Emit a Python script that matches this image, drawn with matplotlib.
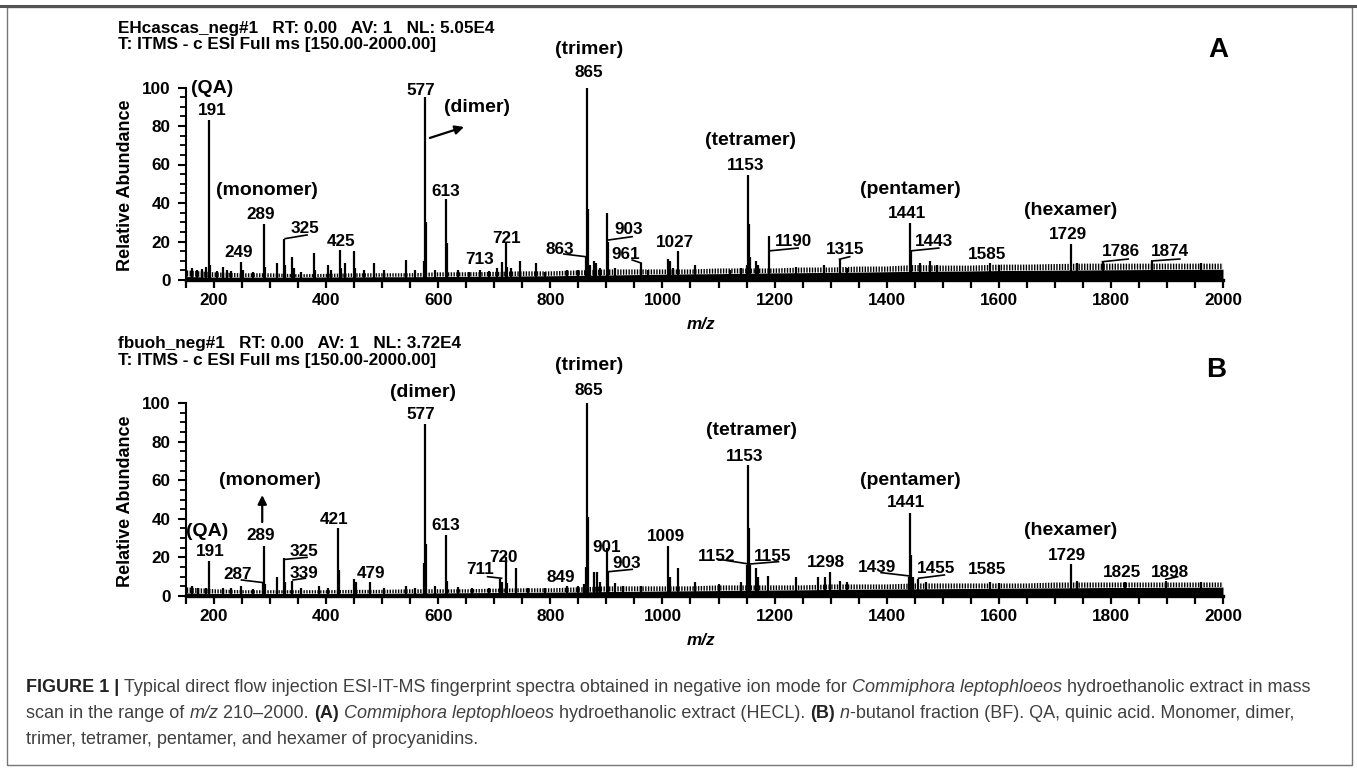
import matplotlib
matplotlib.use("Agg")
import matplotlib.pyplot as plt
from matplotlib.lines import Line2D

plt.rcParams['font.family'] = ['Liberation Sans', 'DejaVu Sans']
plt.rcParams['hatch.linewidth'] = 1.0

# ---------------- DATA ----------------
x_major_ticks = [200, 400, 600, 800, 1000, 1200, 1400, 1600, 1800, 2000]
y_major_ticks = [0, 20, 40, 60, 80, 100]

header_A = ["EHcascas_neg#1   RT: 0.00   AV: 1   NL: 5.05E4",
            "T: ITMS - c ESI Full ms [150.00-2000.00]"]
header_B = ["fbuoh_neg#1   RT: 0.00   AV: 1   NL: 3.72E4",
            "T: ITMS - c ESI Full ms [150.00-2000.00]"]

noise_mz = [150, 200, 250, 300, 350, 400, 450, 500, 550, 600, 650, 700, 750,
            800, 850, 900, 950, 1000, 1050, 1100, 1150, 1200, 1250, 1300, 1350,
            1400, 1450, 1500, 1550, 1600, 1650, 1700, 1750, 1800, 1850, 1900,
            1950, 2000]
A_noise_floor = [1.8, 1.5, 1.5, 1.5, 1.5, 1.6, 1.6, 1.7, 1.7, 1.8, 1.9, 2.0, 2.1,
                 2.2, 2.4, 2.6, 2.8, 3.0, 3.2, 3.3, 3.5, 3.7, 3.8, 4.0, 4.1,
                 4.3, 4.5, 4.6, 4.7, 4.9, 5.0, 5.1, 5.2, 5.3, 5.4, 5.5, 5.5, 5.6]
A_noise_top = [5.0, 4.0, 3.5, 3.5, 3.0, 3.2, 3.5, 3.5, 3.5, 4.0, 4.0, 4.2, 4.5,
               4.5, 5.0, 5.5, 5.5, 5.5, 5.5, 6.0, 6.0, 6.0, 6.5, 6.5, 7.0,
               7.0, 7.8, 7.5, 7.5, 8.0, 8.0, 8.3, 8.5, 8.5, 8.5, 8.5, 8.5, 8.5]
B_noise_floor = [1.6, 1.3, 1.3, 1.3, 1.3, 1.3, 1.4, 1.4, 1.5, 1.6, 1.7, 1.8, 1.9,
                 2.0, 2.1, 2.3, 2.4, 2.6, 2.7, 2.8, 3.0, 3.1, 3.2, 3.4, 3.5,
                 3.6, 3.7, 3.8, 3.9, 4.0, 4.1, 4.2, 4.3, 4.4, 4.4, 4.5, 4.5, 4.6]
B_noise_top = [4.5, 3.5, 3.0, 3.0, 3.0, 3.0, 3.2, 3.2, 3.5, 3.5, 3.5, 3.8, 4.0,
               4.0, 4.5, 5.0, 5.0, 5.0, 5.0, 5.5, 5.5, 5.5, 5.5, 6.0, 6.0,
               6.0, 6.5, 6.5, 6.5, 6.5, 6.5, 7.0, 7.0, 7.0, 7.0, 7.0, 7.0, 7.0]

A_peak_mz = [160, 170, 178, 185, 191, 193, 205, 216, 224, 230, 249, 251, 270,
             289, 291, 313, 325, 327, 339, 343, 355, 379, 381, 403, 409, 425,
             427, 433, 449, 451, 467, 485, 503, 542, 559, 575, 577, 579, 595,
             613, 615, 636, 655, 675, 690, 705, 713, 721, 723, 730, 745, 774,
             790, 830, 850, 863, 865, 867, 870, 877, 881, 889, 901, 903, 915,
             961, 975, 1009, 1013, 1019, 1027, 1058, 1120, 1140, 1151, 1153,
             1155, 1157, 1166, 1171, 1190, 1239, 1288, 1316, 1330, 1441, 1443,
             1460, 1477, 1490, 1585, 1600, 1729, 1740, 1786, 1874, 1960]
A_peak_int = [6, 5, 5.5, 7, 83, 8, 4.5, 7, 5, 4.5, 9.5, 5, 4,
              29, 7, 8.6, 21.5, 8, 12, 6, 4, 14, 5, 8, 5, 15.5,
              6, 8.7, 15, 6, 5, 9, 5, 10.4, 5, 10, 95, 30, 5,
              42, 19, 5, 4, 5, 4.5, 6, 9.5, 19, 7, 6, 10, 8.6,
              4, 5, 5, 12, 100, 37, 8, 10, 9, 6, 35, 20, 6,
              9, 5, 11, 10, 6, 15, 8, 5, 6, 8, 54.5,
              29, 12, 10, 8, 23, 7, 8, 11, 6, 29.5, 15,
              9, 10, 8, 9, 8, 18.5, 9, 9.5, 10, 9]

B_peak_mz = [160, 172, 185, 191, 216, 230, 249, 270, 287, 289, 291, 313, 325,
             327, 339, 355, 387, 403, 421, 423, 449, 453, 479, 503, 542, 559,
             575, 577, 579, 595, 613, 615, 636, 660, 690, 711, 713, 720, 722,
             738, 760, 790, 830, 849, 860, 863, 865, 867, 877, 883, 889, 901,
             903, 915, 930, 961, 1009, 1013, 1028, 1058, 1100, 1140, 1151, 1153,
             1155, 1157, 1166, 1170, 1189, 1239, 1278, 1290, 1298, 1316, 1330,
             1439, 1441, 1443, 1447, 1455, 1470, 1585, 1600, 1729, 1740, 1825,
             1898, 1960]
B_peak_int = [5, 4, 4, 18, 4, 4, 5, 3.5, 7, 26, 6, 9.7, 19.5,
              7, 8, 4, 5, 4, 35, 13.5, 8.6, 7, 7.4, 4, 5, 4,
              17, 89, 27, 5, 31.5, 8, 4.5, 4, 4, 9, 7, 20, 6.5,
              14.3, 4, 4, 5, 5, 6, 15, 100, 41, 12.6, 12.6, 7, 24.7,
              12.6, 6.5, 5, 5, 26, 10, 14.3, 7.4, 6, 7, 16, 68,
              35, 16, 14.3, 10, 10.4, 10, 10, 10, 12.6, 8, 7,
              10, 43, 21, 10, 9, 7, 7, 6.5, 16.4, 8, 7.5,
              8, 7]

caption_lines = [
    [("FIGURE 1 | ", "bold", "normal"),
     ("Typical direct flow injection ESI-IT-MS fingerprint spectra obtained in negative ion mode for ", "normal", "normal"),
     ("Commiphora leptophloeos", "normal", "italic"),
     (" hydroethanolic extract in mass", "normal", "normal")],
    [("scan in the range of ", "normal", "normal"),
     ("m/z", "normal", "italic"),
     (" 210\u20132000. ", "normal", "normal"),
     ("(A)", "bold", "normal"),
     (" ", "normal", "normal"),
     ("Commiphora leptophloeos", "normal", "italic"),
     (" hydroethanolic extract (HECL). ", "normal", "normal"),
     ("(B)", "bold", "normal"),
     (" ", "normal", "normal"),
     ("n", "normal", "italic"),
     ("-butanol fraction (BF). QA, quinic acid. Monomer, dimer,", "normal", "normal")],
    [("trimer, tetramer, pentamer, and hexamer of procyanidins.", "normal", "normal")],
]

# ---------------- LAYOUT ----------------
W, H, DPI = 1357, 769, 100
fig = plt.figure(figsize=(W / DPI, H / DPI), dpi=DPI)
fig.patch.set_facecolor('white')


def px_rect(x0, y_top, x1, y_bot):
    return [x0 / W, 1 - y_bot / H, (x1 - x0) / W, (y_bot - y_top) / H]


# annotation layout: (text, x[m/z], y[%], kind)
A_annot = [("(QA)", 196, 99.5, 'g'), ("191", 196, 88.3, 'n'),
           ("577", 569, 98.7, 'n'), ("(dimer)", 670, 89.4, 'g'),
           ("(monomer)", 294, 46.4, 'g'), ("613", 614, 45.9, 'n'),
           ("289", 284, 33.8, 'n'), ("325", 362, 27.0, 'n'),
           ("249", 244, 14.2, 'n'), ("425", 426, 19.9, 'n'),
           ("713", 674, 10.9, 'n'), ("721", 722, 21.8, 'n'),
           ("863", 816, 16.1, 'n'), ("903", 940, 26.0, 'n'),
           ("961", 934, 13.0, 'n'), ("1027", 1023, 19.4, 'n'),
           ("(tetramer)", 1157, 72.7, 'g'), ("1153", 1149, 59.7, 'n'),
           ("1190", 1233, 20.0, 'n'), ("1315", 1326, 15.6, 'n'),
           ("(pentamer)", 1443, 46.8, 'g'), ("1441", 1436, 34.3, 'n'),
           ("1443", 1484, 20.0, 'n'), ("(hexamer)", 1729, 36.0, 'g'),
           ("1729", 1724, 23.4, 'n'), ("1585", 1579, 13.5, 'n'),
           ("1786", 1818, 14.6, 'n'), ("1874", 1906, 14.6, 'n'),
           ("(trimer)", 869, 120.0, 'g'), ("865", 869, 108.0, 'n')]
A_leaders = [((327, 21.5), (366, 23.4)), ((824, 13.5), (866, 12.0)),
             ((904, 20.8), (946, 22.5)), ((946, 10.4), (962, 8.8)),
             ((1193, 15.2), (1242, 16.6)), ((1445, 15.2), (1493, 16.6)),
             ((1785, 9.5), (1831, 10.9)), ((1873, 9.9), (1923, 10.9)),
             ((1316, 10.8), (1334, 12.1))]
A_arrows = [((585, 73.8), (646, 79.5))]

B_annot = [("(QA)", 188, 33.2, 'g'), ("191", 193, 22.8, 'n'),
           ("(monomer)", 300, 60.1, 'g'), ("289", 284, 31.6, 'n'),
           ("421", 414, 39.4, 'n'), ("(dimer)", 573, 105.2, 'g'),
           ("577", 569, 93.8, 'n'), ("613", 614, 36.3, 'n'),
           ("(trimer)", 869, 119.5, 'g'), ("865", 869, 106.5, 'n'),
           ("325", 361, 22.8, 'n'), ("287", 242, 10.9, 'n'),
           ("339", 361, 11.9, 'n'), ("479", 480, 11.9, 'n'),
           ("720", 716, 20.2, 'n'), ("711", 675, 13.5, 'n'),
           ("849", 819, 9.8, 'n'), ("901", 901, 24.9, 'n'),
           ("903", 937, 16.6, 'n'), ("1009", 1006, 30.6, 'n'),
           ("(tetramer)", 1158, 86.0, 'g'), ("1153", 1147, 72.5, 'n'),
           ("1152", 1097, 20.7, 'n'), ("1155", 1196, 20.7, 'n'),
           ("1298", 1292, 17.6, 'n'), ("(pentamer)", 1443, 60.1, 'g'),
           ("1441", 1435, 48.2, 'n'), ("(hexamer)", 1729, 33.7, 'g'),
           ("1729", 1722, 21.2, 'n'), ("1439", 1383, 15.0, 'n'),
           ("1455", 1488, 14.0, 'n'), ("1585", 1579, 13.5, 'n'),
           ("1825", 1819, 12.4, 'n'), ("1898", 1906, 12.4, 'n')]
B_leaders = [((249, 8.3), (289, 6.9)), ((328, 19.0), (366, 20.0)),
             ((341, 8.3), (363, 9.2)), ((688, 10.0), (713, 9.2)),
             ((904, 12.6), (946, 13.8)), ((1101, 19.0), (1154, 16.6)),
             ((1157, 16.6), (1207, 17.8)), ((1390, 12.1), (1440, 10.4)),
             ((1457, 9.2), (1503, 10.9)), ((1898, 8.7), (1919, 10.0))]
B_arrows = [((286, 38.3), (286, 52.3))]


def draw_panel(rect, floor, top, pk_mz, pk_int, annot, leaders, arrows):
    ax = fig.add_axes(rect)
    ax.set_xlim(150, 2000)
    ax.set_ylim(0, 100)
    ax.fill_between(noise_mz, 0, floor, color='black', lw=0)
    ax.fill_between(noise_mz, floor, top, facecolor='none', edgecolor='black',
                    hatch='||||||', lw=0)
    ax.vlines(pk_mz, 0, pk_int, color='black', lw=1.6)
    for s, x, y, k in annot:
        ax.text(x, y, s, ha='center', va='center', fontweight='bold',
                fontsize=14 if k == 'g' else 12.3, clip_on=False)
    for (x0, y0), (x1, y1) in leaders:
        ax.add_line(Line2D([x0, x1], [y0, y1], color='black', lw=1.2, clip_on=False))
    for (x0, y0), (x1, y1) in arrows:
        ax.annotate('', xy=(x1, y1), xytext=(x0, y0),
                    arrowprops=dict(arrowstyle='-|>', color='black', lw=1.6,
                                    mutation_scale=13, shrinkA=0, shrinkB=0))
    for sp in ['top', 'right']:
        ax.spines[sp].set_visible(False)
    ax.spines['bottom'].set_linewidth(2.4)
    ax.spines['left'].set_linewidth(1.5)
    ax.set_xticks(x_major_ticks)
    ax.set_xticks(list(range(150, 2001, 50)), minor=True)
    ax.set_yticks(y_major_ticks)
    ax.set_yticks(list(range(0, 101, 5)), minor=True)
    ax.tick_params(axis='x', which='both', direction='out', length=5.5,
                   width=1.6, pad=4, labelsize=12.3)
    ax.tick_params(axis='y', which='major', direction='out', length=6,
                   width=1.5, pad=5, labelsize=12.3)
    ax.tick_params(axis='y', which='minor', direction='out', length=4, width=1.3)
    for lab in ax.get_xticklabels() + ax.get_yticklabels():
        lab.set_fontweight('bold')
    ax.text(0.4966, -0.23, "m/z", transform=ax.transAxes, ha='center',
            va='center', fontsize=12.3, fontweight='bold', style='italic')
    ax.text(-0.058, 0.49, "Relative Abundance", transform=ax.transAxes,
            rotation=90, ha='center', va='center', fontsize=13, fontweight='bold')
    return ax


axA = draw_panel(px_rect(186, 87.5, 1223, 280), A_noise_floor, A_noise_top,
                 A_peak_mz, A_peak_int, A_annot, A_leaders, A_arrows)
axB = draw_panel(px_rect(186, 403, 1223, 596), B_noise_floor, B_noise_top,
                 B_peak_mz, B_peak_int, B_annot, B_leaders, B_arrows)

# headers and panel letters
for lines, ys in [(header_A, (28, 45)), (header_B, (344, 361))]:
    for s, y in zip(lines, ys):
        fig.text(118 / W, 1 - y / H, s, ha='left', va='center',
                 fontsize=12.3, fontweight='bold')
fig.text(1218 / W, 1 - 50 / H, "A", ha='center', va='center', fontsize=20,
         fontweight='bold')
fig.text(1216 / W, 1 - 370 / H, "B", ha='center', va='center', fontsize=20,
         fontweight='bold')

# frame
frame = fig.add_axes([0, 0, 1, 1], zorder=-1)
frame.set_xlim(0, W)
frame.set_ylim(H, 0)
frame.axis('off')
frame.add_line(Line2D([7, 7, 1352, 1352, 7], [7, 765, 765, 7, 7],
                      color='#777777', lw=1.0))
frame.add_line(Line2D([0, W], [6, 6], color='#555555', lw=2.2))

# caption with mixed styles
renderer = fig.canvas.get_renderer()
cap_x0 = 26
target_w = 1288
cap_y = [688, 714, 740]


def line_width(segs, size):
    w = 0
    for s, wt, st in segs:
        t = fig.text(0, 0, s, fontsize=size, fontweight=wt, style=st)
        w += t.get_window_extent(renderer).width
        t.remove()
    return w


size = 12 * target_w / line_width(caption_lines[0], 12)
for segs, y in zip(caption_lines, cap_y):
    x = cap_x0
    for s, wt, st in segs:
        col = '#222222' if wt == 'bold' else '#404040'
        t = fig.text(x / W, 1 - y / H, s, fontsize=size, fontweight=wt,
                     style=st, ha='left', va='center', color=col)
        x += t.get_window_extent(renderer).width

fig.savefig("out.png", dpi=DPI, facecolor='white')
